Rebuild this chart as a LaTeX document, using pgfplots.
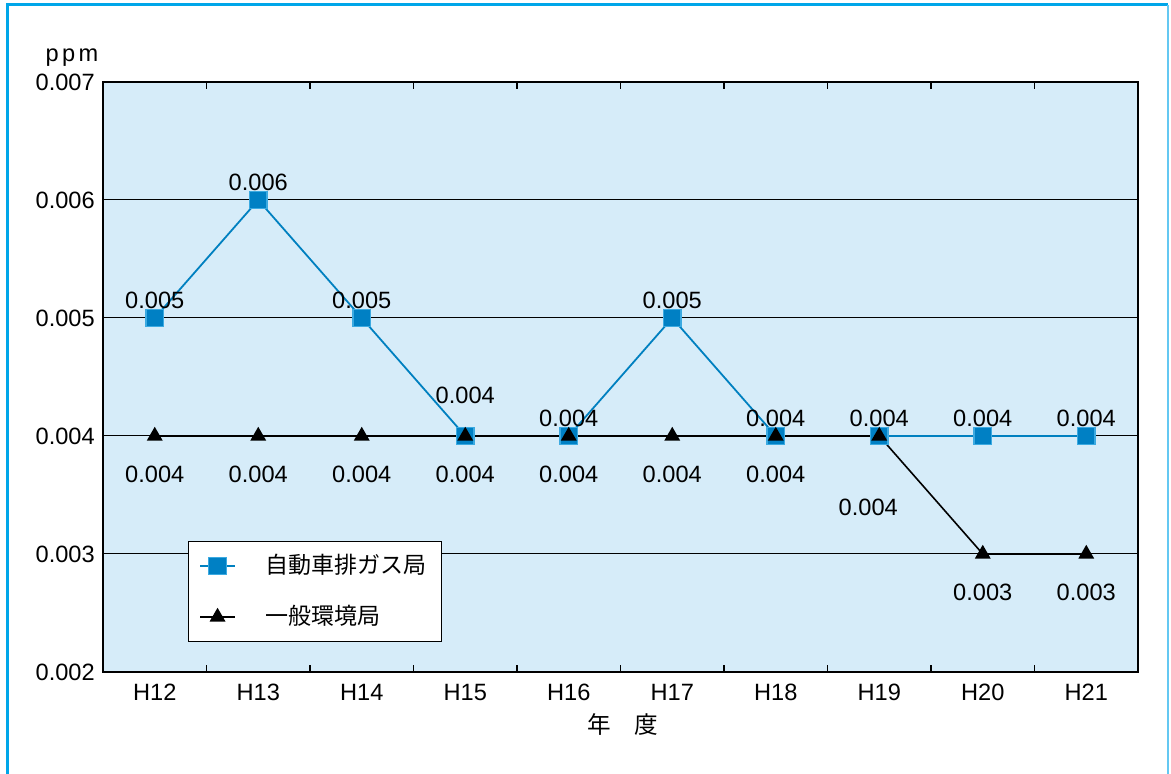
\documentclass[border=0pt]{standalone}
\usepackage{fontspec}
\setmainfont{Liberation Sans}
\newfontfamily\jp{Noto Sans CJK JP}
\usepackage{pgfplots}
\pgfplotsset{compat=1.18}
\definecolor{bgblue}{RGB}{214,236,249}
\definecolor{serblue}{RGB}{0,128,192}
\definecolor{mkblue}{RGB}{0,128,196}
\definecolor{mkedge}{RGB}{60,170,225}
\definecolor{frameblue}{RGB}{0,166,233}
\definecolor{frameblue2}{RGB}{100,200,242}
\begin{document}
\fontsize{11.8}{14}\selectfont
\begin{tikzpicture}[x=1pt,y=1pt]
\useasboundingbox (0,0) rectangle (585.5,387);
\draw[frameblue, line width=1.5pt] (3.5,-5) -- (3.5,384.5) -- (584,384.5);
\draw[frameblue2, line width=1pt] (584,384.5) -- (584,-5);
\begin{axis}[at={(51.5pt,51pt)}, anchor=south west, scale only axis,
  width=517.5pt, height=295pt,
  xmin=-0.5, xmax=9.5, ymin=0.002, ymax=0.007,
  axis background/.style={fill=bgblue},
  axis line style={black, line width=0.6pt},
  xtick={0,1,2,3,4,5,6,7,8,9},
  xticklabels={H12,H13,H14,H15,H16,H17,H18,H19,H20,H21},
  minor xtick={0.5,1.5,2.5,3.5,4.5,5.5,6.5,7.5,8.5},
  major tick length=0pt, minor tick length=3.5pt,
  tick align=inside, tick style={black, line width=0.6pt},
  ytick={0.002,0.003,0.004,0.005,0.006,0.007},
  yticklabel style={/pgf/number format/fixed, /pgf/number format/fixed zerofill, /pgf/number format/precision=3},
  /pgf/number format/assume math mode=true,
  scaled y ticks=false,
  ymajorgrids, grid style={black, line width=0.5pt},
  xticklabel style={yshift=-1.8pt},
  legend style={draw=black, fill=white, at={(0.0821,0.222)}, anchor=north west,
    inner xsep=5.5pt, inner ysep=4.5pt, row sep=10pt, font={\jp\fontsize{11.5}{14}\selectfont}, line width=0.6pt},
  legend cell align=left,
  clip=false,
]
\addplot[serblue, line width=0.9pt, mark=square*, mark size=4.4pt,
  mark options={fill=mkblue, draw=mkedge, line width=0.6pt}]
  coordinates {(0,0.005)(1,0.006)(2,0.005)(3,0.004)(4,0.004)(5,0.005)(6,0.004)(7,0.004)(8,0.004)(9,0.004)};
\addlegendentry{\hspace{13pt}自動車排ガス局}
\addplot[black, line width=0.8pt, mark=triangle*, mark size=3.8pt, mark options={fill=black}]
  coordinates {(0,0.004)(1,0.004)(2,0.004)(3,0.004)(4,0.004)(5,0.004)(6,0.004)(7,0.004)(8,0.003)(9,0.003)};
\addlegendentry{\hspace{13pt}一般環境局}
% blue labels
\node at (axis cs:0,0.005) [yshift=9pt] {0.005};
\node at (axis cs:1,0.006) [yshift=9pt] {0.006};
\node at (axis cs:2,0.005) [yshift=9pt] {0.005};
\node at (axis cs:3,0.004) [yshift=20.5pt] {0.004};
\node at (axis cs:4,0.004) [yshift=9pt] {0.004};
\node at (axis cs:5,0.005) [yshift=9pt] {0.005};
\node at (axis cs:6,0.004) [yshift=9pt] {0.004};
\node at (axis cs:7,0.004) [yshift=9pt] {0.004};
\node at (axis cs:8,0.004) [yshift=9pt] {0.004};
\node at (axis cs:9,0.004) [yshift=9pt] {0.004};
% black labels
\node at (axis cs:0,0.004) [yshift=-19pt] {0.004};
\node at (axis cs:1,0.004) [yshift=-19pt] {0.004};
\node at (axis cs:2,0.004) [yshift=-19pt] {0.004};
\node at (axis cs:3,0.004) [yshift=-19pt] {0.004};
\node at (axis cs:4,0.004) [yshift=-19pt] {0.004};
\node at (axis cs:5,0.004) [yshift=-19pt] {0.004};
\node at (axis cs:6,0.004) [yshift=-19pt] {0.004};
\node at (axis cs:7,0.004) [yshift=-35.5pt, xshift=-5.5pt] {0.004};
\node at (axis cs:8,0.003) [yshift=-19pt] {0.003};
\node at (axis cs:9,0.003) [yshift=-19pt] {0.003};
\node at (rel axis cs:-0.03,1.042) {p\kern1.7pt p\kern1.7pt m};
\node at (rel axis cs:0.5024,-0.0898) {\jp 年　度};
\end{axis}
\end{tikzpicture}
\end{document}
